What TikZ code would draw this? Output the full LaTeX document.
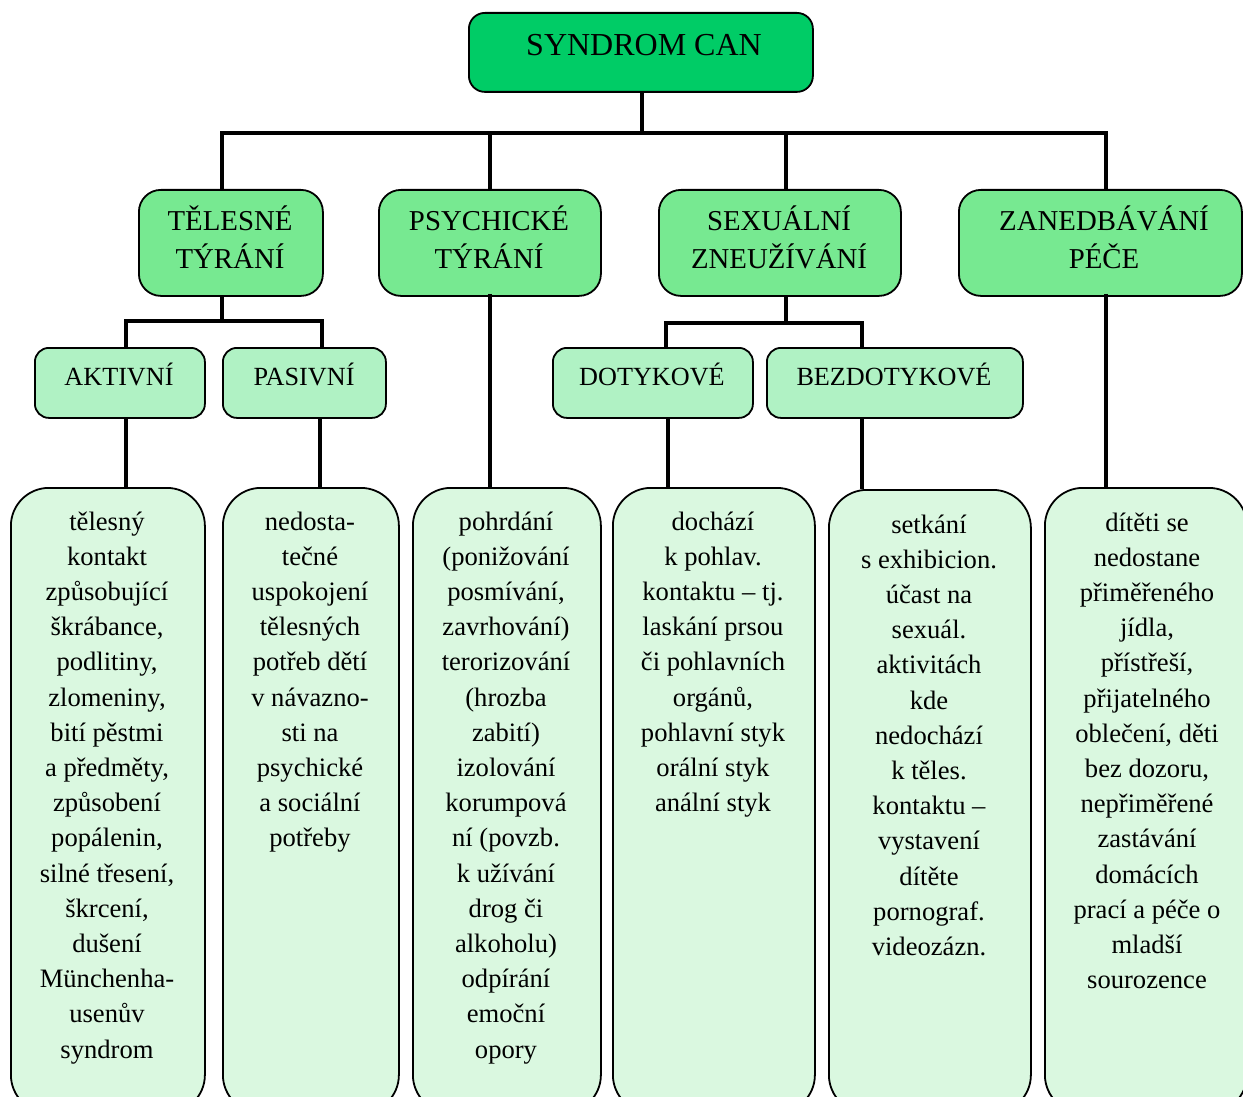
\documentclass[tikz,border=0pt]{standalone}
\usepackage{fontspec}
\setmainfont{Liberation Serif}
\definecolor{cTop}{HTML}{00CC66}
\definecolor{cMain}{HTML}{77E991}
\definecolor{cSub}{HTML}{B0F2C4}
\definecolor{cLeaf}{HTML}{DAF8E0}
\newcommand\mlines[1]{\begin{tabular}[t]{@{}c@{}}#1\end{tabular}}
\begin{document}
\begin{tikzpicture}[x=1pt,y=-1pt,
  conn/.style={draw=black,line width=4.2pt},
  boxshape/.style={draw=black,line width=1.8pt,inner sep=0pt,anchor=north west},
  topbox/.style={boxshape,fill=cTop,rounded corners=16pt},
  mainbox/.style={boxshape,fill=cMain,rounded corners=22pt},
  subbox/.style={boxshape,fill=cSub,rounded corners=14pt},
  leafbox/.style={boxshape,fill=cLeaf,rounded corners=38pt},
  toptext/.style={anchor=base,inner sep=0pt,font=\fontsize{32}{38}\selectfont},
  maintext/.style={anchor=base,inner sep=0pt,font=\fontsize{28.8}{38}\selectfont},
  subtext/.style={anchor=base,inner sep=0pt,font=\fontsize{26.2}{35}\selectfont},
  leaftext/.style={anchor=base,inner sep=0pt,font=\fontsize{26.6}{35.2}\selectfont}]
\path[use as bounding box,clip] (0,0) rectangle (1243,1097);
\fill[white] (0,0) rectangle (1243,1097);
% bus levels and x positions
\coordinate (busA) at (0,133);
\coordinate (busT) at (0,321);
\coordinate (busS) at (0,323);
\coordinate (xTop) at (642,0);
\coordinate (xT) at (222,0);
\coordinate (xP) at (490,0);
\coordinate (xS) at (786,0);
\coordinate (xZ) at (1106,0);
\coordinate (xAk) at (126,0);
\coordinate (xPa) at (322,0);
\coordinate (xPa2) at (320,0);
\coordinate (xDo) at (666,0);
\coordinate (xDo2) at (668,0);
\coordinate (xBe) at (862,0);
% boxes (shapes)
\node[topbox,minimum width=344pt,minimum height=79pt] (top) at (468,12) {};
\node[mainbox,minimum width=184pt,minimum height=106pt] (tel) at (138,189) {};
\node[mainbox,minimum width=222pt,minimum height=106pt] (psy) at (378,189) {};
\node[mainbox,minimum width=242pt,minimum height=106pt] (sex) at (658,189) {};
\node[mainbox,minimum width=283pt,minimum height=106pt] (zan) at (958,189) {};
\node[subbox,minimum width=170pt,minimum height=70pt] (akt) at (34,347) {};
\node[subbox,minimum width=163pt,minimum height=70pt] (pas) at (222,347) {};
\node[subbox,minimum width=200pt,minimum height=70pt] (dot) at (552,347) {};
\node[subbox,minimum width=256pt,minimum height=70pt] (bez) at (766,347) {};
\node[leafbox,minimum width=194pt,minimum height=625pt] (b1) at (10,487) {};
\node[leafbox,minimum width=176pt,minimum height=625pt] (b2) at (222,487) {};
\node[leafbox,minimum width=188pt,minimum height=625pt] (b3) at (412,487) {};
\node[leafbox,minimum width=202pt,minimum height=625pt] (b4) at (612,487) {};
\node[leafbox,minimum width=202pt,minimum height=623pt] (b5) at (828,489) {};
\node[leafbox,minimum width=202pt,minimum height=625pt] (b6) at (1044,487) {};
% connectors
\draw[conn] (top.south -| xTop) -- (busA -| xTop);
\draw[conn] (tel.north -| xT) -- (busA -| xT) -- (busA -| xZ) -- (zan.north -| xZ);
\draw[conn] (busA -| xP) -- (psy.north -| xP);
\draw[conn] (busA -| xS) -- (sex.north -| xS);
\draw[conn] (tel.south -| xT) -- (busT -| xT);
\draw[conn] (akt.north -| xAk) -- (busT -| xAk) -- (busT -| xPa) -- (pas.north -| xPa);
\draw[conn] (sex.south -| xS) -- (busS -| xS);
\draw[conn] (dot.north -| xDo) -- (busS -| xDo) -- (busS -| xBe) -- (bez.north -| xBe);
\draw[conn] (akt.south -| xAk) -- (b1.north -| xAk);
\draw[conn] (pas.south -| xPa2) -- (b2.north -| xPa2);
\draw[conn] ([yshift=3pt]psy.south -| xP) -- (b3.north -| xP);
\draw[conn] (dot.south -| xDo2) -- (b4.north -| xDo2);
\draw[conn] (bez.south -| xBe) -- (b5.north -| xBe);
\draw[conn] ([yshift=3pt]zan.south -| xZ) -- (b6.north -| xZ);
% texts
\node[toptext] (ttop) at (644,56) {SYNDROM CAN};
\node[maintext] (ttel) at (230,230) {\mlines{TĚLESNÉ\\TÝRÁNÍ}};
\node[maintext] (tpsy) at (489,230) {\mlines{PSYCHICKÉ\\TÝRÁNÍ}};
\node[maintext] (tsex) at (779,230) {\mlines{SEXUÁLNÍ\\ZNEUŽÍVÁNÍ}};
\node[maintext] (tzan) at (1104,230) {\mlines{ZANEDBÁVÁNÍ\\PÉČE}};
\node[subtext] (takt) at (119,385) {AKTIVNÍ};
\node[subtext] (tpas) at (304,385) {PASIVNÍ};
\node[subtext] (tdot) at (652,385) {DOTYKOVÉ};
\node[subtext] (tbez) at (894,385) {BEZDOTYKOVÉ};
\node[leaftext] (tb1) at (107,530) {\mlines{tělesný\\kontakt\\způsobující\\škrábance,\\podlitiny,\\zlomeniny,\\bití pěstmi\\a předměty,\\způsobení\\popálenin,\\silné třesení,\\škrcení,\\dušení\\Münchenha-\\usenův\\syndrom}};
\node[leaftext] (tb2) at (310,530) {\mlines{nedosta-\\tečné\\uspokojení\\tělesných\\potřeb dětí\\v návazno-\\sti na\\psychické\\a sociální\\potřeby}};
\node[leaftext] (tb3) at (506,530) {\mlines{pohrdání\\(ponižování\\posmívání,\\zavrhování)\\terorizování\\(hrozba\\zabití)\\izolování\\korumpová\\ní (povzb.\\k užívání\\drog či\\alkoholu)\\odpírání\\emoční\\opory}};
\node[leaftext] (tb4) at (713,530) {\mlines{dochází\\k pohlav.\\kontaktu – tj.\\laskání prsou\\či pohlavních\\orgánů,\\pohlavní styk\\orální styk\\anální styk}};
\node[leaftext] (tb5) at (929,533) {\mlines{setkání\\s exhibicion.\\účast na\\sexuál.\\aktivitách\\kde\\nedochází\\k těles.\\kontaktu –\\vystavení\\dítěte\\pornograf.\\videozázn.}};
\node[leaftext] (tb6) at (1147,531) {\mlines{dítěti se\\nedostane\\přiměřeného\\jídla,\\přístřeší,\\přijatelného\\oblečení, děti\\bez dozoru,\\nepřiměřené\\zastávání\\domácích\\prací a péče o\\mladší\\sourozence}};
\end{tikzpicture}
\end{document}
